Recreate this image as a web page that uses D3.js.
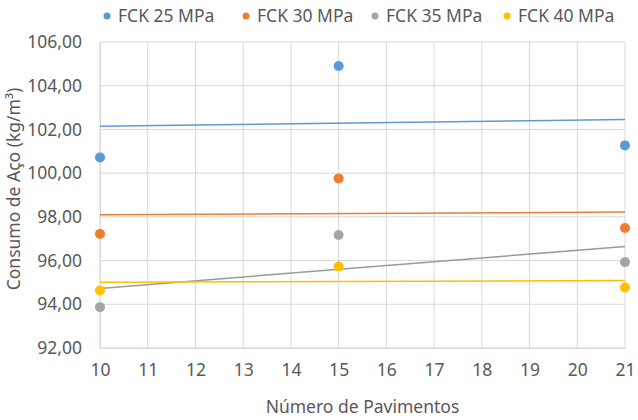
<!DOCTYPE html>
<html>
<head>
<meta charset="utf-8">
<script src="https://cdn.jsdelivr.net/npm/d3@7"></script>
<style>
  html, body { margin: 0; padding: 0; background: #fff; }
  svg { display: block; font-family: "Noto Sans", sans-serif; }
</style>
</head>
<body>
<svg id="chart" width="638" height="420"></svg>
<script>
// ---- data ----
const pavimentos = [10, 15, 21];
const seriesNames = ["FCK 25 MPa", "FCK 30 MPa", "FCK 35 MPa", "FCK 40 MPa"];
const fck25 = [100.72, 104.90, 101.27];
const fck30 = [97.22, 99.76, 97.49];
const fck35 = [93.87, 97.17, 95.93];
const fck40 = [94.63, 95.73, 94.77];
const seriesColors = ["#5B9BD5", "#ED7D31", "#A5A5A5", "#FFC000"];
const xTicks = [10, 11, 12, 13, 14, 15, 16, 17, 18, 19, 20, 21];
const yTicks = [92, 94, 96, 98, 100, 102, 104, 106];
const xTitle = "Número de Pavimentos";
const yTitle = "Consumo de Aço (kg/m³)";

const seriesValues = [fck25, fck30, fck35, fck40];

const svg = d3.select("#chart");
const margin = { left: 100, right: 13, top: 42, bottom: 72 };
const W = 638, H = 420;
const fs = "17.5px";

const x = d3.scaleLinear().domain([10, 21]).range([margin.left, W - margin.right]);
const y = d3.scaleLinear().domain([92, 106]).range([H - margin.bottom, margin.top]);

const textColor = "#595959";
const gridColor = "#D9D9D9";

// grid
const g = svg.append("g");
g.selectAll("line.vg").data(xTicks).enter().append("line")
  .attr("x1", d => x(d)).attr("x2", d => x(d))
  .attr("y1", y(92)).attr("y2", y(106))
  .attr("stroke", gridColor).attr("stroke-width", 1);
g.selectAll("line.hg").data(yTicks).enter().append("line")
  .attr("x1", x(10)).attr("x2", x(21))
  .attr("y1", d => y(d)).attr("y2", d => y(d))
  .attr("stroke", gridColor).attr("stroke-width", 1);

// axes
const fmt = d => d3.format(".2f")(d).replace(".", ",");
const yAxis = d3.axisLeft(y).tickValues(yTicks).tickFormat(fmt).tickSize(0).tickPadding(18);
const yg = svg.append("g").attr("transform", `translate(${margin.left},0)`).call(yAxis);
yg.select(".domain").attr("stroke", gridColor);
yg.selectAll("text").attr("fill", textColor).style("font-size", fs)
  .style("font-family", "'Noto Sans', sans-serif");

const xAxis = d3.axisBottom(x).tickValues(xTicks).tickFormat(d3.format("d")).tickSize(0).tickPadding(16);
const xg = svg.append("g").attr("transform", `translate(0,${y(92)})`).call(xAxis);
xg.select(".domain").attr("stroke", gridColor);
xg.selectAll("text").attr("fill", textColor).style("font-size", fs)
  .style("font-family", "'Noto Sans', sans-serif");

// trendlines (linear least squares from data)
function fit(xs, ys) {
  const mx = d3.mean(xs), my = d3.mean(ys);
  let sxy = 0, sxx = 0;
  xs.forEach((xi, i) => { sxy += (xi - mx) * (ys[i] - my); sxx += (xi - mx) ** 2; });
  const b = sxy / sxx;
  return v => my + b * (v - mx);
}
seriesValues.forEach((vals, i) => {
  const f = fit(pavimentos, vals);
  svg.append("line")
    .attr("x1", x(10)).attr("x2", x(21))
    .attr("y1", y(f(10))).attr("y2", y(f(21)))
    .attr("stroke", i === 2 ? "#9A9A9A" : seriesColors[i])
    .attr("stroke-width", 1.5);
});

// points
seriesValues.forEach((vals, i) => {
  svg.append("g").selectAll("circle").data(vals).enter().append("circle")
    .attr("cx", (d, j) => x(pavimentos[j]))
    .attr("cy", d => y(d))
    .attr("r", 5)
    .attr("fill", seriesColors[i]);
});

// legend
const legendX = [107, 246, 375, 507];
const lg = svg.append("g");
seriesNames.forEach((n, i) => {
  lg.append("circle").attr("cx", legendX[i]).attr("cy", 16).attr("r", 3.5).attr("fill", seriesColors[i]);
  lg.append("text").attr("x", legendX[i] + 11).attr("y", 22)
    .attr("fill", textColor).style("font-size", fs).text(n);
});

// titles
svg.append("text").attr("x", (x(10) + x(21)) / 2).attr("y", 413)
  .attr("text-anchor", "middle").attr("fill", textColor).style("font-size", fs).text(xTitle);
svg.append("text").attr("transform", `translate(20,${189}) rotate(-90)`)
  .attr("text-anchor", "middle").attr("fill", textColor).style("font-size", fs).text(yTitle);
</script>
</body>
</html>
